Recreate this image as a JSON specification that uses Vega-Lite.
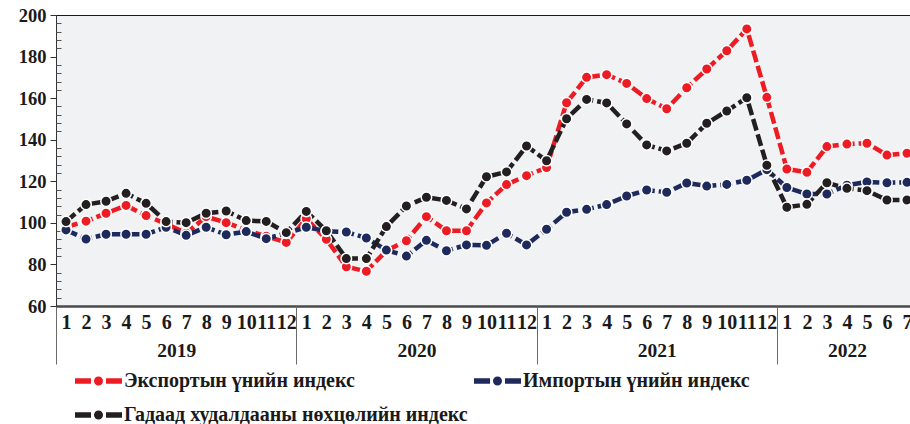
{
  "$schema": "https://vega.github.io/schema/vega-lite/v6.json",
  "width": 856,
  "height": 291,
  "autosize": {"type": "none"},
  "padding": {"left": 56, "top": 15, "right": 0, "bottom": 118},
  "background": "white",
  "config": {
    "view": {"fill": "#f1f2f4", "stroke": "#1a1a1a", "strokeWidth": 1},
    "font": "Liberation Serif",
    "axis": {"labelFont": "Liberation Serif", "labelFontWeight": "bold", "labelFontSize": 18.5, "labelColor": "#1a1a1a", "grid": false, "title": null},
    "legend": {
      "orient": "none", "legendX": 32.5, "legendY": 356, "direction": "horizontal", "columns": 2,
      "symbolType": "M-2.35,-0.28H-0.75V0.28H-2.35Z M0.75,-0.28H2.35V0.28H0.75Z M-0.45,0A0.45,0.45,0,1,1,0.45,0A0.45,0.45,0,1,1,-0.45,0Z",
      "symbolSize": 400, "symbolStrokeWidth": 0,
      "labelFont": "Liberation Serif", "labelFontWeight": "bold", "labelFontSize": 20, "labelColor": "#1a1a1a",
      "labelOffset": 15.5, "rowPadding": 14, "columnPadding": 5, "padding": 0, "labelLimit": 500
    }
  },
  "data": {"values": [
    {"i":0,"s":"Экспортын үнийн индекс","v":98},
    {"i":1,"s":"Экспортын үнийн индекс","v":100.8},
    {"i":2,"s":"Экспортын үнийн индекс","v":104.6},
    {"i":3,"s":"Экспортын үнийн индекс","v":108.4},
    {"i":4,"s":"Экспортын үнийн индекс","v":103.5},
    {"i":5,"s":"Экспортын үнийн индекс","v":99.5},
    {"i":6,"s":"Экспортын үнийн индекс","v":95},
    {"i":7,"s":"Экспортын үнийн индекс","v":103},
    {"i":8,"s":"Экспортын үнийн индекс","v":100.1},
    {"i":9,"s":"Экспортын үнийн индекс","v":96.5},
    {"i":10,"s":"Экспортын үнийн индекс","v":93.5},
    {"i":11,"s":"Экспортын үнийн индекс","v":90.6},
    {"i":12,"s":"Экспортын үнийн индекс","v":102},
    {"i":13,"s":"Экспортын үнийн индекс","v":92.1},
    {"i":14,"s":"Экспортын үнийн индекс","v":78.9},
    {"i":15,"s":"Экспортын үнийн индекс","v":76.7},
    {"i":16,"s":"Экспортын үнийн индекс","v":86.6},
    {"i":17,"s":"Экспортын үнийн индекс","v":91.4},
    {"i":18,"s":"Экспортын үнийн индекс","v":103},
    {"i":19,"s":"Экспортын үнийн индекс","v":96.2},
    {"i":20,"s":"Экспортын үнийн индекс","v":96.2},
    {"i":21,"s":"Экспортын үнийн индекс","v":109.6},
    {"i":22,"s":"Экспортын үнийн индекс","v":118.4},
    {"i":23,"s":"Экспортын үнийн индекс","v":122.7},
    {"i":24,"s":"Экспортын үнийн индекс","v":126.6},
    {"i":25,"s":"Экспортын үнийн индекс","v":157.8},
    {"i":26,"s":"Экспортын үнийн индекс","v":170},
    {"i":27,"s":"Экспортын үнийн индекс","v":171.3},
    {"i":28,"s":"Экспортын үнийн индекс","v":167.1},
    {"i":29,"s":"Экспортын үнийн индекс","v":159.8},
    {"i":30,"s":"Экспортын үнийн индекс","v":154.9},
    {"i":31,"s":"Экспортын үнийн индекс","v":165},
    {"i":32,"s":"Экспортын үнийн индекс","v":174},
    {"i":33,"s":"Экспортын үнийн индекс","v":182.8},
    {"i":34,"s":"Экспортын үнийн индекс","v":193.3},
    {"i":35,"s":"Экспортын үнийн индекс","v":160.4},
    {"i":36,"s":"Экспортын үнийн индекс","v":125.9},
    {"i":37,"s":"Экспортын үнийн индекс","v":124.3},
    {"i":38,"s":"Экспортын үнийн индекс","v":136.7},
    {"i":39,"s":"Экспортын үнийн индекс","v":137.9},
    {"i":40,"s":"Экспортын үнийн индекс","v":138.3},
    {"i":41,"s":"Экспортын үнийн индекс","v":132.6},
    {"i":42,"s":"Экспортын үнийн индекс","v":133.5},
    {"i":0,"s":"Импортын үнийн индекс","v":96.6},
    {"i":1,"s":"Импортын үнийн индекс","v":92.2},
    {"i":2,"s":"Импортын үнийн индекс","v":94.5},
    {"i":3,"s":"Импортын үнийн индекс","v":94.5},
    {"i":4,"s":"Импортын үнийн индекс","v":94.5},
    {"i":5,"s":"Импортын үнийн индекс","v":97.9},
    {"i":6,"s":"Импортын үнийн индекс","v":94},
    {"i":7,"s":"Импортын үнийн индекс","v":97.9},
    {"i":8,"s":"Импортын үнийн индекс","v":94.3},
    {"i":9,"s":"Импортын үнийн индекс","v":95.8},
    {"i":10,"s":"Импортын үнийн индекс","v":92.4},
    {"i":11,"s":"Импортын үнийн индекс","v":95},
    {"i":12,"s":"Импортын үнийн индекс","v":97.9},
    {"i":13,"s":"Импортын үнийн индекс","v":96},
    {"i":14,"s":"Импортын үнийн индекс","v":95.6},
    {"i":15,"s":"Импортын үнийн индекс","v":92.7},
    {"i":16,"s":"Импортын үнийн индекс","v":86.9},
    {"i":17,"s":"Импортын үнийн индекс","v":84},
    {"i":18,"s":"Импортын үнийн индекс","v":91.6},
    {"i":19,"s":"Импортын үнийн индекс","v":86.6},
    {"i":20,"s":"Импортын үнийн индекс","v":89.4},
    {"i":21,"s":"Импортын үнийн индекс","v":89.2},
    {"i":22,"s":"Импортын үнийн индекс","v":95},
    {"i":23,"s":"Импортын үнийн индекс","v":89.4},
    {"i":24,"s":"Импортын үнийн индекс","v":96.9},
    {"i":25,"s":"Импортын үнийн индекс","v":105.1},
    {"i":26,"s":"Импортын үнийн индекс","v":106.5},
    {"i":27,"s":"Импортын үнийн индекс","v":108.8},
    {"i":28,"s":"Импортын үнийн индекс","v":112.9},
    {"i":29,"s":"Импортын үнийн индекс","v":115.8},
    {"i":30,"s":"Импортын үнийн индекс","v":114.7},
    {"i":31,"s":"Импортын үнийн индекс","v":119.2},
    {"i":32,"s":"Импортын үнийн индекс","v":117.7},
    {"i":33,"s":"Импортын үнийн индекс","v":118.5},
    {"i":34,"s":"Импортын үнийн индекс","v":120.5},
    {"i":35,"s":"Импортын үнийн индекс","v":125.6},
    {"i":36,"s":"Импортын үнийн индекс","v":117},
    {"i":37,"s":"Импортын үнийн индекс","v":113.9},
    {"i":38,"s":"Импортын үнийн индекс","v":113.9},
    {"i":39,"s":"Импортын үнийн индекс","v":118.1},
    {"i":40,"s":"Импортын үнийн индекс","v":119.7},
    {"i":41,"s":"Импортын үнийн индекс","v":119.3},
    {"i":42,"s":"Импортын үнийн индекс","v":119.5},
    {"i":0,"s":"Гадаад худалдааны нөхцөлийн индекс","v":100.6},
    {"i":1,"s":"Гадаад худалдааны нөхцөлийн индекс","v":108.8},
    {"i":2,"s":"Гадаад худалдааны нөхцөлийн индекс","v":110.4},
    {"i":3,"s":"Гадаад худалдааны нөхцөлийн индекс","v":114.2},
    {"i":4,"s":"Гадаад худалдааны нөхцөлийн индекс","v":109.4},
    {"i":5,"s":"Гадаад худалдааны нөхцөлийн индекс","v":100.6},
    {"i":6,"s":"Гадаад худалдааны нөхцөлийн индекс","v":100.1},
    {"i":7,"s":"Гадаад худалдааны нөхцөлийн индекс","v":104.6},
    {"i":8,"s":"Гадаад худалдааны нөхцөлийн индекс","v":105.7},
    {"i":9,"s":"Гадаад худалдааны нөхцөлийн индекс","v":101.1},
    {"i":10,"s":"Гадаад худалдааны нөхцөлийн индекс","v":100.7},
    {"i":11,"s":"Гадаад худалдааны нөхцөлийн индекс","v":95.3},
    {"i":12,"s":"Гадаад худалдааны нөхцөлийн индекс","v":105.5},
    {"i":13,"s":"Гадаад худалдааны нөхцөлийн индекс","v":96.2},
    {"i":14,"s":"Гадаад худалдааны нөхцөлийн индекс","v":82.8},
    {"i":15,"s":"Гадаад худалдааны нөхцөлийн индекс","v":82.8},
    {"i":16,"s":"Гадаад худалдааны нөхцөлийн индекс","v":98.2},
    {"i":17,"s":"Гадаад худалдааны нөхцөлийн индекс","v":108.1},
    {"i":18,"s":"Гадаад худалдааны нөхцөлийн индекс","v":112.3},
    {"i":19,"s":"Гадаад худалдааны нөхцөлийн индекс","v":110.8},
    {"i":20,"s":"Гадаад худалдааны нөхцөлийн индекс","v":106.7},
    {"i":21,"s":"Гадаад худалдааны нөхцөлийн индекс","v":122.2},
    {"i":22,"s":"Гадаад худалдааны нөхцөлийн индекс","v":124.5},
    {"i":23,"s":"Гадаад худалдааны нөхцөлийн индекс","v":137},
    {"i":24,"s":"Гадаад худалдааны нөхцөлийн индекс","v":129.9},
    {"i":25,"s":"Гадаад худалдааны нөхцөлийн индекс","v":150.1},
    {"i":26,"s":"Гадаад худалдааны нөхцөлийн индекс","v":159.4},
    {"i":27,"s":"Гадаад худалдааны нөхцөлийн индекс","v":157.7},
    {"i":28,"s":"Гадаад худалдааны нөхцөлийн индекс","v":147.6},
    {"i":29,"s":"Гадаад худалдааны нөхцөлийн индекс","v":137.5},
    {"i":30,"s":"Гадаад худалдааны нөхцөлийн индекс","v":134.6},
    {"i":31,"s":"Гадаад худалдааны нөхцөлийн индекс","v":138.3},
    {"i":32,"s":"Гадаад худалдааны нөхцөлийн индекс","v":147.9},
    {"i":33,"s":"Гадаад худалдааны нөхцөлийн индекс","v":153.8},
    {"i":34,"s":"Гадаад худалдааны нөхцөлийн индекс","v":160.2},
    {"i":35,"s":"Гадаад худалдааны нөхцөлийн индекс","v":127.7},
    {"i":36,"s":"Гадаад худалдааны нөхцөлийн индекс","v":107.5},
    {"i":37,"s":"Гадаад худалдааны нөхцөлийн индекс","v":108.9},
    {"i":38,"s":"Гадаад худалдааны нөхцөлийн индекс","v":119.3},
    {"i":39,"s":"Гадаад худалдааны нөхцөлийн индекс","v":116.6},
    {"i":40,"s":"Гадаад худалдааны нөхцөлийн индекс","v":115.5},
    {"i":41,"s":"Гадаад худалдааны нөхцөлийн индекс","v":111},
    {"i":42,"s":"Гадаад худалдааны нөхцөлийн индекс","v":111}
  ]},
  "layer": [
    {
      "mark": {"type": "line", "strokeWidth": 4.5, "strokeDash": [12, 4]},
      "encoding": {
        "x": {"field": "i", "type": "quantitative",
          "scale": {"domain": [-0.5, 42.25], "nice": false, "zero": false},
          "axis": {"orient": "bottom", "values": [0,1,2,3,4,5,6,7,8,9,10,11,12,13,14,15,16,17,18,19,20,21,22,23,24,25,26,27,28,29,30,31,32,33,34,35,36,37,38,39,40,41,42],
            "labelExpr": "(datum.value % 12) + 1", "ticks": false, "tickSize": 0, "labelPadding": 6, "labelFontSize": 20,
            "domainColor": "#4a4a4a", "domainWidth": 2.5, "labelOverlap": false, "labelFlush": false}},
        "y": {"field": "v", "type": "quantitative",
          "scale": {"domain": [60, 200], "nice": false, "zero": false},
          "axis": {"orient": "left", "values": [60,80,100,120,140,160,180,200], "tickSize": 6, "tickColor": "#333333",
            "domainColor": "#333333", "domainWidth": 1, "labelPadding": 4}},
        "color": {"field": "s", "type": "nominal",
          "scale": {"domain": ["Экспортын үнийн индекс", "Импортын үнийн индекс", "Гадаад худалдааны нөхцөлийн индекс"],
                    "range": ["#ed1c24", "#1f2a5c", "#231f20"]},
          "legend": {"title": null,
            "encode": {"symbols": {"update": {"fill": {"scale": "color", "field": "value"}, "strokeWidth": {"value": 0}, "opacity": {"value": 1}}}}}}
      }
    },
    {
      "mark": {"type": "point", "filled": true, "size": 110, "stroke": "white", "strokeWidth": 1.5, "opacity": 1},
      "encoding": {
        "x": {"field": "i", "type": "quantitative",
          "axis": {"orient": "bottom", "values": [-0.5, 11.5, 23.5, 35.5], "labels": false, "domain": false,
            "tickSize": 58, "tickColor": "#6b6b6b", "tickWidth": 1}},
        "y": {"field": "v", "type": "quantitative",
          "axis": {"orient": "left", "values": [64,68,72,76,84,88,92,96,104,108,112,116,124,128,132,136,144,148,152,156,164,168,172,176,184,188,192,196],
            "labels": false, "domain": false, "tickSize": -5, "tickColor": "#555555", "tickWidth": 1}},
        "color": {"field": "s", "type": "nominal", "legend": null}
      }
    },
    {
      "mark": {"type": "point", "opacity": 0},
      "encoding": {
        "x": {"field": "i", "type": "quantitative",
          "axis": {"orient": "bottom", "values": [5.5, 17.5, 29.5, 39],
            "labelExpr": "datum.value < 12 ? '2019' : datum.value < 24 ? '2020' : datum.value < 36 ? '2021' : '2022'",
            "ticks": false, "tickSize": 0, "domain": false, "labelPadding": 35, "labelFontSize": 19.5, "labelFlush": false, "labelOverlap": false}},
        "y": {"field": "v", "type": "quantitative", "axis": null}
      }
    }
  ],
  "resolve": {"scale": {"x": "shared", "y": "shared"}, "axis": {"x": "independent", "y": "independent"}}
}
